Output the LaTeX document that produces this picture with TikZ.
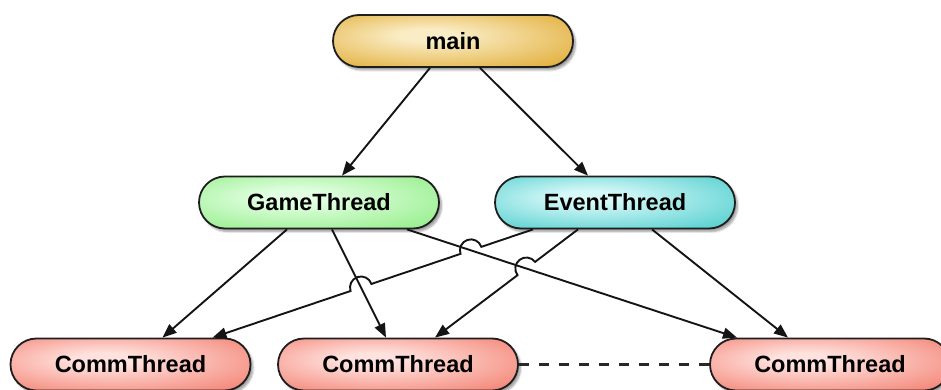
\documentclass[tikz,border=0pt]{standalone}
\usepackage{fontspec}
\setmainfont{Liberation Sans}
\usetikzlibrary{arrows.meta,shadows.blur,calc,intersections}

% node fill colours: light centre, saturated rim
\definecolor{mainin}{RGB}{250,236,196}
\definecolor{mainout}{RGB}{222,166,40}
\definecolor{gamein}{RGB}{226,255,226}
\definecolor{gameout}{RGB}{140,236,128}
\definecolor{eventin}{RGB}{214,248,248}
\definecolor{eventout}{RGB}{68,202,202}
\definecolor{commin}{RGB}{255,226,222}
\definecolor{commout}{RGB}{242,120,104}
\definecolor{boxline}{RGB}{30,30,30}
\definecolor{linkcol}{RGB}{20,20,20}
\definecolor{dashcol}{RGB}{40,40,40}

\pgfdeclareradialshading{mainglow}{\pgfpoint{-6bp}{6bp}}{color(0bp)=(mainin); color(6bp)=(mainin); color(40bp)=(mainout); color(60bp)=(mainout)}
\pgfdeclareradialshading{gameglow}{\pgfpoint{-6bp}{6bp}}{color(0bp)=(gamein); color(6bp)=(gamein); color(40bp)=(gameout); color(60bp)=(gameout)}
\pgfdeclareradialshading{eventglow}{\pgfpoint{-6bp}{6bp}}{color(0bp)=(eventin); color(6bp)=(eventin); color(40bp)=(eventout); color(60bp)=(eventout)}
\pgfdeclareradialshading{commglow}{\pgfpoint{-6bp}{6bp}}{color(0bp)=(commin); color(6bp)=(commin); color(40bp)=(commout); color(60bp)=(commout)}

\begin{document}
\begin{tikzpicture}[x=1pt,y=1pt,
  box/.style={rectangle, rounded corners=26pt, draw=boxline, line width=1.8pt,
    minimum width=240pt, minimum height=52pt, inner sep=0pt,
    font=\fontsize{23.5}{27}\selectfont\bfseries,
    blur shadow={shadow xshift=2.5pt, shadow yshift=-3pt, shadow blur steps=6, shadow opacity=40}},
  link/.style={draw=linkcol, line width=1.9pt, -{Triangle[length=14pt,width=11pt]}},
  peer/.style={draw=dashcol, line width=2.4pt, dash pattern=on 10pt off 10pt},
]
\useasboundingbox (0,0) rectangle (941,-390);

% thread boxes
\node[box, shading=mainglow]  (main)  at (453,-41)    {main};
\node[box, shading=gameglow]  (game)  at (319,-202.5) {GameThread};
\node[box, shading=eventglow] (event) at (615,-202.5) {EventThread};
\node[box, shading=commglow]  (c1)    at (130.5,-364.5) {CommThread};
\node[box, shading=commglow]  (c2)    at (398,-364.5)   {CommThread};
\node[box, shading=commglow]  (c3)    at (830,-364.5)   {CommThread};

% connector end points on the box borders
\coordinate (m1) at ($(main.south)+(-23,0)$);
\coordinate (m2) at ($(main.south)+(27,0)$);
\coordinate (gin) at ($(game.north)+(23,0)$);
\coordinate (ein) at ($(event.north)+(-27,0)$);
\coordinate (g1) at ($(game.south)+(-32,0)$);
\coordinate (g2) at ($(game.south)+(13,0)$);
\coordinate (g3) at ($(game.south)+(88,0)$);
\coordinate (e1) at ($(event.south)+(-82,0)$);
\coordinate (e2) at ($(event.south)+(-37,0)$);
\coordinate (e3) at ($(event.south)+(37,0)$);
\coordinate (c1a) at ($(c1.north)+(32,0)$);
\coordinate (c1b) at ($(c1.north)+(82,0)$);
\coordinate (c2a) at ($(c2.north)+(-12,0)$);
\coordinate (c2b) at ($(c2.north)+(37,0)$);
\coordinate (c3a) at ($(c3.north)+(-93,0)$);
\coordinate (c3b) at ($(c3.north)+(-42,0)$);

% straight connectors
\draw[link] (m1) -- (gin);
\draw[link] (m2) -- (ein);
\draw[link] (g1) -- (c1a);
\draw[link, name path=gc2] (g2) -- (c2a);
\draw[link, name path=gc3] (g3) -- (c3a);
\draw[link] (e3) -- (c3b);

% connectors from EventThread hop over the ones they cross
\path[name path=ec1] (e1) -- (c1b);
\path[name path=ec2] (e2) -- (c2b);
\path[name intersections={of=ec1 and gc3, by=xa}];
\path[name intersections={of=ec1 and gc2, by=xb}];
\path[name intersections={of=ec2 and gc3, by=xc}];

\draw[link] let \p1=($(e1)-(c1b)$), \n1={atan2(\y1,\x1)} in
  (e1) -- ($(xa)!11pt!(e1)$) arc[start angle=\n1, delta angle=180, radius=11pt]
       -- ($(xb)!11pt!(e1)$) arc[start angle=\n1, delta angle=180, radius=11pt]
       -- (c1b);
\draw[link] let \p1=($(e2)-(c2b)$), \n1={atan2(\y1,\x1)} in
  (e2) -- ($(xc)!11pt!(e2)$) arc[start angle=\n1, delta angle=180, radius=11pt]
       -- (c2b);

% peer link between the comm threads
\draw[peer] (c2.east) -- (c3.west);
\end{tikzpicture}
\end{document}
